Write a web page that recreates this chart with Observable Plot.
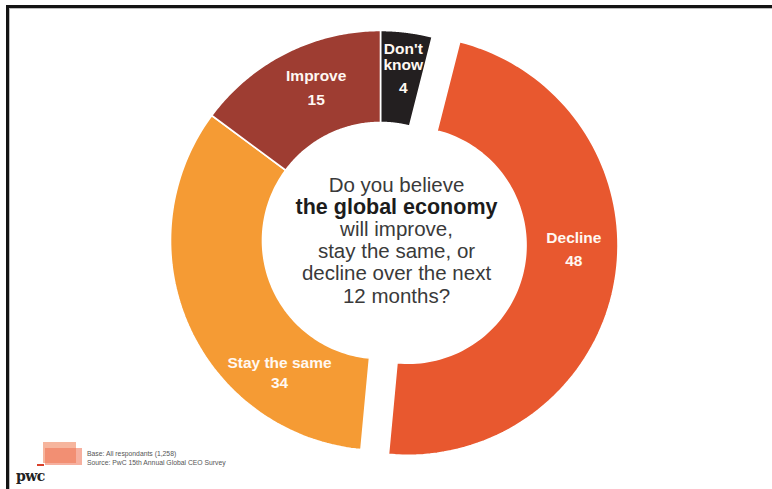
<!DOCTYPE html>
<html>
<head>
<meta charset="utf-8">
<script src="https://cdn.jsdelivr.net/npm/d3@7"></script>
<script src="https://cdn.jsdelivr.net/npm/@observablehq/plot@0.6"></script>
<style>
  html, body { margin: 0; padding: 0; background: #fff; }
  #wrap { position: relative; width: 772px; height: 489px; overflow: hidden; background: #fff; font-family: "Liberation Sans", Arial, sans-serif; }
  #frame { position: absolute; left: 6px; top: 5px; width: 900px; height: 600px; border-top: 3px solid #141414; border-left: 3px solid #141414; box-shadow: inset 1px 1px 0 #bdbdbd; }
  #chart { position: absolute; left: 0; top: 0; }
  #foot { position: absolute; left: 0; top: 0; width: 772px; height: 489px; pointer-events: none; }
  .note { position: absolute; left: 87px; font-size: 6.8px; color: #555; line-height: 9px; white-space: nowrap; }
  #logo { position: absolute; left: 16px; top: 468px; font-family: "DejaVu Serif", Georgia, serif; font-weight: bold; font-size: 14px; color: #222; letter-spacing: -0.5px; }
</style>
</head>
<body>
<div id="wrap">
  <div id="frame"></div>
  <div id="chart"></div>
  <div id="foot">
    <div style="position:absolute;left:43px;top:442px;width:33px;height:21px;background:#f6b59d;"></div>
    <div style="position:absolute;left:45px;top:448px;width:37px;height:17px;background:rgba(238,112,80,0.55);"></div>
    <div style="position:absolute;left:37px;top:464px;width:7px;height:1.5px;background:#d9412b;"></div>
    <div class="note" id="base" style="top:449px;"></div>
    <div class="note" id="source" style="top:458px;"></div>
    <div id="logo">pwc</div>
  </div>
</div>
<script>
// ---- data ----
const categories = ["Don't know", "Decline", "Stay the same", "Improve"];
const values = [4, 48, 34, 15];
const labelNames = ["Don't\nknow", "Decline", "Stay the same", "Improve"];
const explodedCategories = ["Decline"];
const questionLines = ["Do you believe", "the global economy", "will improve,", "stay the same, or", "decline over the next", "12 months?"];
const questionBold = [false, true, false, false, false, false];
const baseNote = "Base: All respondants (1,258)";
const sourceNote = "Source: PwC 15th Annual Global CEO Survey";

// ---- styling / layout ----
const palette = ["#231f20", "#e8582f", "#f59b34", "#9e3d32"];
const INNER = 0.562;      // inner radius as share of outer radius
const EXPLODE = 0.133;    // pull-out distance of exploded slice
const LABEL_R = 0.79;     // label radius
const labelAngleDeg = {"Don't know": 7.9, "Decline": 91.3, "Stay the same": 217.5, "Improve": 337.2};
const labelGap = {"Don't know": 6, "Decline": 6, "Stay the same": 4.5, "Improve": 6.5};
const LINE_STEP = 22.2 / 210;
const Q_X = 16 / 210;
const FONT = "Liberation Sans, Arial, sans-serif";

document.getElementById("base").textContent = baseNote;
document.getElementById("source").textContent = sourceNote;

const rows = categories.map((c, i) => ({category: c, value: values[i], name: labelNames[i]}));
const arcs = d3.pie().sort(null).value(d => d.value)(rows);

const slicePts = [];
const labelRows = [];
for (const a of arcs) {
  const mid = (a.startAngle + a.endAngle) / 2;
  const off = explodedCategories.includes(a.data.category) ? EXPLODE : 0;
  const ox = off * Math.sin(mid), oy = off * Math.cos(mid);
  const n = 90;
  const ring = [];
  for (let i = 0; i <= n; i++) {
    const t = a.startAngle + (a.endAngle - a.startAngle) * i / n;
    ring.push([ox + Math.sin(t), oy + Math.cos(t)]);
  }
  for (let i = n; i >= 0; i--) {
    const t = a.startAngle + (a.endAngle - a.startAngle) * i / n;
    ring.push([ox + INNER * Math.sin(t), oy + INNER * Math.cos(t)]);
  }
  ring.push(ring[0]);
  for (const [x, y] of ring) slicePts.push({category: a.data.category, x, y});
  const la = labelAngleDeg[a.data.category] * Math.PI / 180;
  labelRows.push({
    category: a.data.category, name: a.data.name, value: a.data.value,
    x: ox + LABEL_R * Math.sin(la), y: oy + LABEL_R * Math.cos(la)
  });
}

const qRows = questionLines.map((t, i) => ({text: t, bold: questionBold[i], x: Q_X, y: -(i - (questionLines.length - 1) / 2) * LINE_STEP}));

const nameMarks = labelRows.map(r => Plot.text([r], {x: "x", y: "y", text: "name", lineAnchor: "bottom", dy: -labelGap[r.category], lineHeight: 1.03,
  fill: "#fff8f2", fontSize: 15.5, fontWeight: "bold", fontFamily: FONT}));
const valueMarks = labelRows.map(r => Plot.text([r], {x: "x", y: "y", text: d => String(d.value), lineAnchor: "top", dy: labelGap[r.category],
  fill: "#fff8f2", fontSize: 15.5, fontWeight: "bold", fontFamily: FONT}));

const chart = Plot.plot({
  width: 772,
  height: 489,
  marginLeft: 170,
  marginRight: 182,
  marginTop: 30,
  marginBottom: 39,
  x: {domain: [-1, 1], axis: null},
  y: {domain: [-1, 1], axis: null},
  color: {domain: categories, range: palette},
  style: {background: "transparent", overflow: "visible"},
  marks: [
    Plot.line(slicePts, {x: "x", y: "y", z: "category", fill: "category", stroke: "white", strokeWidth: 1.6, curve: "linear"}),
    ...nameMarks,
    ...valueMarks,
    Plot.text(qRows.filter(d => !d.bold), {x: "x", y: "y", text: "text", lineAnchor: "middle",
      fill: "#3a3a3a", fontSize: 20.5, fontFamily: FONT}),
    Plot.text(qRows.filter(d => d.bold), {x: "x", y: "y", text: "text", lineAnchor: "middle",
      fill: "#1c1c1c", fontSize: 21.5, fontWeight: "bold", fontFamily: FONT})
  ]
});
document.getElementById("chart").appendChild(chart);
</script>
</body>
</html>
